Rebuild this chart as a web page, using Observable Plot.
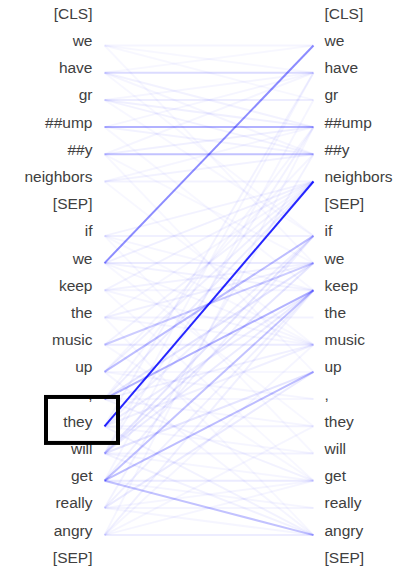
<!DOCTYPE html>
<html>
<head>
<meta charset="utf-8">
<script src="https://cdn.jsdelivr.net/npm/d3@7"></script>
<script src="https://cdn.jsdelivr.net/npm/@observablehq/plot@0.6"></script>
<style>
  html, body { margin: 0; padding: 0; background: #fff; }
  #chart svg { display: block; }
</style>
</head>
<body>
<div id="chart"></div>
<script>
// Tokens (same sequence on both sides)
const tokens = ["[CLS]", "we", "have", "gr", "##ump", "##y", "neighbors", "[SEP]",
  "if", "we", "keep", "the", "music", "up", ",", "they", "will", "get", "really", "angry", "[SEP]"];

// Attention links: source token index (left), target token index (right), weight
const srcTok = [
  1, 2, 3, 4, 5, 6, 8, 9, 10, 11, 12, 13, 14, 15, 16, 17, 18, 19,
  2, 2, 3, 3, 1, 4, 5, 4, 5, 6, 6, 3, 1, 2,
  15, 16, 17, 18, 19, 16, 14, 13, 12, 11, 10, 9, 8, 13, 14,
  9, 15, 13, 12, 14, 17, 17, 17, 16, 16, 15, 16, 18, 19, 17, 15, 14, 11, 10, 18, 19, 16, 15, 19, 14, 10, 8, 8, 9, 9, 11,
  8, 9, 10, 11, 12, 13, 14, 15, 16, 18, 17, 16, 19, 18, 15, 14, 13,
  1, 2, 4, 5, 6, 3, 5
];
const dstTok = [
  1, 2, 3, 4, 5, 6, 8, 9, 10, 11, 12, 13, 14, 15, 16, 17, 18, 19,
  4, 5, 4, 5, 3, 5, 4, 2, 2, 5, 4, 2, 2, 1,
  2, 4, 3, 5, 4, 2, 4, 5, 6, 6, 6, 6, 6, 6, 6,
  1, 6, 8, 9, 10, 10, 13, 19, 9, 8, 10, 13, 13, 15, 8, 8, 9, 9, 9, 10, 10, 10, 12, 12, 12, 12, 10, 12, 12, 10, 12,
  16, 15, 17, 19, 17, 19, 17, 19, 19, 19, 18, 17, 17, 17, 16, 15, 14,
  9, 8, 10, 9, 12, 8, 13
];
const attn = [
  0.04, 0.14, 0.07, 0.30, 0.24, 0.05, 0.06, 0.08, 0.04, 0.05, 0.08, 0.03, 0.03, 0.05, 0.05, 0.08, 0.04, 0.07,
  0.05, 0.04, 0.06, 0.05, 0.03, 0.05, 0.06, 0.04, 0.04, 0.05, 0.04, 0.04, 0.03, 0.03,
  0.05, 0.05, 0.04, 0.05, 0.04, 0.04, 0.04, 0.04, 0.05, 0.04, 0.05, 0.06, 0.05, 0.06, 0.07,
  0.45, 0.85, 0.26, 0.20, 0.30, 0.24, 0.26, 0.24, 0.10, 0.10, 0.07, 0.10, 0.08, 0.04, 0.06, 0.06, 0.10, 0.06, 0.05, 0.06, 0.06, 0.08, 0.06, 0.04, 0.06, 0.04, 0.04, 0.03, 0.04, 0.05, 0.04,
  0.03, 0.03, 0.03, 0.03, 0.03, 0.04, 0.05, 0.05, 0.05, 0.04, 0.04, 0.04, 0.04, 0.04, 0.04, 0.04, 0.04,
  0.03, 0.03, 0.03, 0.03, 0.03, 0.03, 0.03
];

// Highlighted token (left side)
const highlight = [15];

const links = srcTok.map((s, k) => ({src: s, dst: dstTok[k], w: attn[k]}));
const tokRows = tokens.map((t, i) => ({t, i}));

const font = "'Liberation Sans', Arial, sans-serif";

const chart = Plot.plot({
  width: 400,
  height: 571,
  marginLeft: 104,
  marginRight: 87,
  marginTop: 17.8,
  marginBottom: 9.2,
  x: {domain: [0, 1], axis: null},
  y: {domain: [0, 20], reverse: true, axis: null},
  style: {background: "#fff", fontFamily: font},
  marks: [
    Plot.link(links, {
      x1: () => 0, x2: () => 1, y1: "src", y2: "dst",
      stroke: "#0000ff", strokeOpacity: "w", strokeWidth: 2
    }),
    Plot.text(tokRows, {
      x: () => 0, y: "i", text: "t", textAnchor: "end", dx: -12, dy: -4.5,
      fontSize: 15.5, fill: "#404040", fontFamily: font
    }),
    Plot.text(tokRows, {
      x: () => 1, y: "i", text: "t", textAnchor: "start", dx: 11, dy: -4.5,
      fontSize: 15.5, fill: "#404040", fontFamily: font
    }),
    Plot.rect(highlight, {
      x1: () => -0.2775, x2: () => 0.067,
      y1: d => d - 1.06, y2: d => d + 0.63,
      fill: "none", stroke: "#000", strokeWidth: 4
    })
  ]
});
document.getElementById("chart").append(chart);
</script>
</body>
</html>
